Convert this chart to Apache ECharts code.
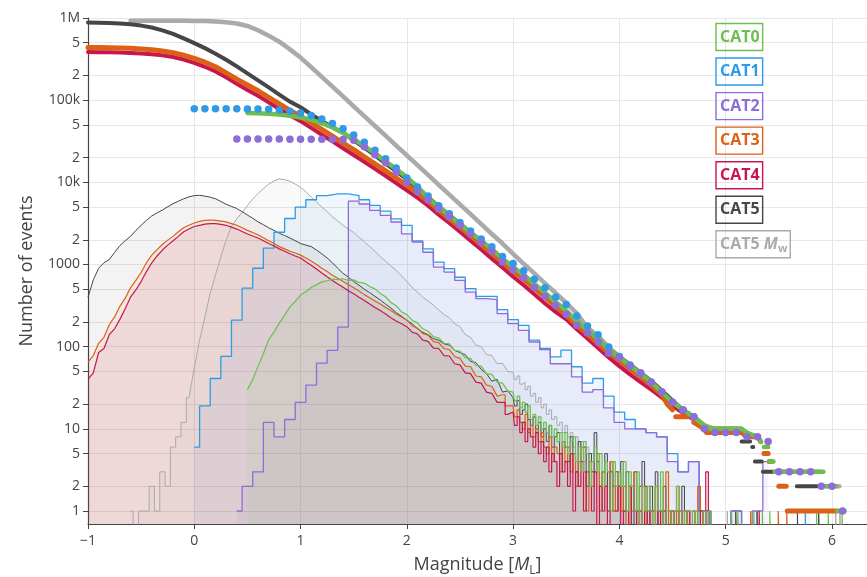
<!DOCTYPE html>
<html><head><meta charset="utf-8">
<script src="https://cdn.jsdelivr.net/npm/echarts@6/dist/echarts.min.js"></script>
<style>html,body{margin:0;padding:0;background:#fff}#c{width:867px;height:577px}</style>
</head><body><div id="c"></div>
<script>
// ---------------- tick labels ----------------
const xTickValues = [-1, 0, 1, 2, 3, 4, 5, 6];
const xTickLabels = ['\u22121', '0', '1', '2', '3', '4', '5', '6'];
const yTickValues = [1,2,5,10,20,50,100,200,500,1000,2000,5000,10000,20000,50000,100000,200000,500000,1000000];
const yTickLabels = ['1','2','5','10','2','5','100','2','5','1000','2','5','10k','2','5','100k','2','5','1M'];

// ---------------- categories ----------------
const catNames = ['CAT0', 'CAT1', 'CAT2', 'CAT3', 'CAT4', 'CAT5', 'CAT5 Mw'];
const catColors = ['#6cbf4f', '#2f9be8', '#8e6cd9', '#dc6016', '#c9164c', '#464646', '#aaaaaa'];

// ---------------- histograms: fine bins (counts per 0.01 bin) ----------------
// main part sampled every 0.05 (up to M 2.95), tail part sampled every 0.025 (from M 3.0)
const fineStep = 0.05;
const tailStep = 0.025;
const tailStart = 3.0;

const cat5HistStart = -1.0;
const cat5Hist = [400,650,900,1050,1150,1400,1700,1950,2200,2600,3000,3450,3900,4250,4600,5050,5500,5900,6300,6650,
 6900,6950,6800,6600,6300,5850,5400,5100,4800,4400,4000,3650,3300,3050,2800,2600,2400,2250,2100,1950,
 1800,1720,1650,1500,1350,1200,1050,900,780,700,620,560,500,455,410,370,330,295,260,235,
 210,190,165,150,140,125,120,108,105,90,85,80,66,64,53,47,38,40,28,29];
const cat5Tail = [24,19,22,15,17,20,13,11,14,9,12,8,10,7,11,6,8,9,5,7,
 6,4,8,5,3,7,4,6,2,5,3,9,4,2,3,5,1,4,2,3,
 2,4,1,3,2,0,3,1,2,4,1,0,2,1,3,0,1,2,0,1,
 0,1,1,0,2,1,0,0,1,0,1,0,0,1,1,0];

const cat3HistStart = -1.0;
const cat3Hist = [65,78,110,130,185,230,310,390,520,640,800,1050,1300,1520,1750,1980,2200,2500,2800,3000,
 3200,3350,3450,3480,3450,3380,3300,3150,3000,2800,2600,2450,2300,2120,1950,1800,1650,1550,1450,1380,
 1300,1200,1100,1000,900,820,740,680,620,570,520,475,430,395,360,330,300,275,250,230,
 210,180,168,145,138,115,112,95,92,76,72,58,57,44,43,34,33,25,26,19];
const cat3Tail = [19,14,17,12,10,15,9,11,8,10,7,9,6,5,8,4,6,5,3,7,
 4,6,3,5,2,4,6,3,1,4,2,3,5,1,3,2,1,4,2,1,
 3,1,2,0,2,1,3,0,1,2,0,1,1,0,2,1,0,1,3,0,
 1,0,2,0,1,0,1,0,0,1,2,0,1,0,0,0];

const cat4HistStart = -1.0;
const cat4Hist = [40,48,85,95,140,165,215,290,400,490,620,820,1050,1270,1500,1720,1950,2200,2500,2700,
 2900,3000,3100,3150,3150,3080,3000,2850,2700,2520,2350,2220,2100,1950,1800,1680,1550,1450,1350,1270,
 1200,1080,980,880,790,710,640,580,530,480,440,400,365,330,300,275,250,225,205,190,
 175,150,143,120,116,96,95,78,77,62,60,48,47,37,36,28,27,21,21,15];
const cat4Tail = [16,11,14,9,12,7,10,8,6,9,5,7,4,6,3,5,4,2,5,3,
 4,2,5,1,3,2,4,1,3,2,1,3,0,2,1,2,0,3,1,1,
 2,0,1,1,0,2,1,0,1,0,2,0,1,0,0,1,0,1,0,0,
 1,0,0,1,0,0,1,0,0,0,0,1,0,3,0,0];

const cat0HistStart = 0.5;
const cat0Hist = [30,40,58,82,122,150,195,240,305,355,425,465,525,565,615,635,665,655,670,640,
 650,605,595,540,505,445,405,345,315,265,245,210,195,165,155,132,128,110,108,90,
 88,73,72,59,58,47,46,37,36,29];
const cat0Tail = [28,22,25,18,21,16,19,13,15,11,14,10,12,9,11,8,10,7,9,6,
 9,5,7,8,4,6,3,7,5,2,4,6,3,5,2,4,3,1,4,2,
 3,2,4,1,3,2,1,3,0,2,1,2,1,0,2,1,3,0,1,1,
 0,1,2,0,1,0,1,1,0,1,0,0,1,0,1,0];

const cat5MwHistStart = -0.6;
const cat5MwHist = [1,0,1,1,2,1,3,2,6,8,12,24,55,120,230,450,750,1250,2000,2900,
 3600,4300,5200,6300,7300,8400,9500,10400,11000,10800,10300,9500,8700,7700,6600,5800,5000,4400,3800,3400,
 3000,2700,2450,2150,1900,1650,1450,1250,1100,960,850,730,620,530,460,400,360,320,280,245,
 225,190,175,140,130,105,100,80,78,62,63,50];
const cat5MwTail = [49,40,44,35,37,30,33,25,27,21,24,18,20,15,17,13,14,11,12,9,
 11,8,9,6,8,5,7,4,6,3,5,3,4,2,3,2,3,1,2,2,
 1,2,1,0,2,1,1,0,1,0,0,1,1,0,1,0,0,1,0];

// isolated single events far in the tail (magnitudes)
const cat0Singles = [5.06, 5.12, 5.27, 5.35, 5.42, 5.86, 5.97, 6.10];
const cat3Singles = [5.24, 5.50, 5.58];
const cat4Singles = [5.32];
const cat5Singles = [5.10, 5.30, 5.68, 5.88];
const cat5MwSingles = [5.02, 6.04, 6.08];

// ---------------- histograms: coarse 0.1 bins ----------------
const coarseStep = 0.1;
const cat1HistStart = 0.0;
const cat1Hist = [6,19,41,76,210,515,900,1580,2470,3630,
 4980,6140,6900,7230,7230,6900,6140,5230,4460,3600,
 2990,1940,1550,1070,890,700,510,410,410,282,
 214,182,120,95,75,91,57,36,41,25,
 16,13,10,9,8,5,3,4,1,0,
 0,1,0,0,0,0,0,0,1];
const cat2HistStart = 0.4;
const cat2Hist = [1,2,3,12,8,13,21,34,63,90,
 173,5900,5450,4550,3970,3290,2360,1880,1410,930,
 810,640,460,385,373,252,191,158,114,92,
 62,62,43,28,30,18,12,10,10,9,
 8,4,3,4,1,0,0,1,0,1,4];

// ---------------- cumulative counts N(>=M) ----------------
const cumStep = 0.1;
const cat5CumStart = -1.0;
const cat5Cum = [882000,878000,870000,858000,838000,808000,765000,708000,640000,565000,
 495000,430000,368000,310000,258000,212000,174000,143000,117000,96000,
 82000,67000,56000,47000,40000,32500,26500,21200,17000,13600,
 10900,8500,6600,5100,4000,3150,2450,1950,1520,1180,
 920,730,570,440,345,270,205,160,122,93,
 75,60,48,38,29,22];
const cat5TailMag = [4.55,4.6,4.7,4.8,4.85,5.14,5.14,5.15,5.23,5.23,5.25,5.26,5.26,5.265,5.27,5.27,5.275,5.34,5.34,5.35,5.44,5.44,5.67,5.86,5.86,5.88,5.95];
const cat5TailN   = [19,17,14,11,10,10,null,7,7,null,6,6,null,5,5,null,4,4,null,3,3,null,2,2,null,1,1];

const cat3CumStart = -1.0;
const cat3Cum = [438000,437000,435000,432000,427000,420000,410000,396000,378000,352000,
 322000,290000,255000,215000,180000,153000,130000,108000,90000,75000,
 64000,53000,44000,36500,30000,25000,20500,16800,13800,11300,
 9200,7400,5900,4600,3600,2850,2250,1750,1370,1070,
 830,660,515,400,310,242,182,142,110,84,
 68,54,43,34,26];
const cat3TailMag = [4.45,4.5,4.5,4.53,4.64,4.64,4.7,4.8,4.82,5.15,5.2,5.3,5.33,5.33,5.36,5.40,5.40,5.41,5.43,5.43,5.50,5.57,5.57,5.58,6.05];
const cat3TailN   = [20,17,null,14,14,null,12,10,9,9,8,8,7,null,5,5,null,4,4,null,2,2,null,1,1];

const cat4CumStart = -1.0;
const cat4Cum = [385000,384000,382000,380000,376000,370000,362000,351000,335000,312000,
 285000,255000,224000,190000,158000,133000,113000,94000,78000,65500,
 55500,46000,38000,31500,26000,21500,17800,14600,12000,9800,
 8000,6500,5200,4050,3200,2500,1950,1520,1180,920,
 710,560,435,335,265,215,163,126,96,74,
 58,46,37,30,24,19,15.5,13,10];

const cat0CumStart = 0.5;
const cat0Cum = [70000,69300,68300,66800,64400,61600,57500,52500,46500,40000,
 33500,27500,22500,18000,14500,11500,8900,6500,5000,3950,
 3100,2450,1950,1540,1180,930,750,580,455,350,
 275,205,160,125,92,74,59,47,37,28,
 21,17,14,11];
const cat0TailMag = [4.85,5.15,5.2,5.3,5.33,5.33,5.36,5.40,5.40,5.41,5.45,5.45,5.46,5.92,5.92,5.93,6.04,6.04,6.05,6.12];
const cat0TailN   = [10,10,9,8,7,null,6,6,null,4,4,null,3,3,null,2,2,null,1,1];

const cat5MwCumStart = -0.6;
const cat5MwCum = [925000,925000,925000,925000,924000,924000,922000,918000,908000,890000,
 858000,800000,710000,610000,515000,415000,330000,252000,192000,146000,
 111000,84000,64000,48500,37000,28000,21300,16200,12300,9300,
 7100,5400,4100,3100,2350,1800,1350,1020,780,590,
 450,340,255,170,135,98,76,60,48,38,
 29,22,17,14,11];
const cat5MwTailMag = [4.9,5.15,5.15,5.45,5.9,5.9,5.95,6.07];
const cat5MwTailN   = [10,10,null,3,3,null,2,2];

const cat1CumStart = 0.0;
const cat1Cum = [78500,78500,78500,78400,78400,78300,78100,77500,76000,73200,
 70000,65100,59000,52100,44900,37600,30700,24600,19400,14900,
 11300,8800,6800,5200,4150,3250,2550,2050,1640,1250,
 1030,840,660,520,400,325,237,178,140,99,
 76,60,47,37,28,21,17,14];
const cat2CumStart = 0.4;
const cat2Cum = [33600,33600,33600,33600,33600,33500,33500,33500,33400,33400,
 33300,32600,27200,21600,17300,13300,10000,7700,6100,4750,
 3800,3000,2350,1850,1450,1070,860,693,525,410,
 318,248,182,147,114,83,74,58,48,37,
 28,21,17,14,10,9,9,9,8,8,
 7,3,3,3,3,2,2,1];

// ---------------- building helpers ----------------
const FLOOR = 0.3;      // below the axis minimum: zero-count bins
const SMOOTH_MIN = 20;  // samples at or above this are joined directly, lower ones drawn as steps
function r4(v) { return Math.round(v * 10000) / 10000; }
function fv(v) { return v > 0 ? v : FLOOR; }
// sampled part of a fine histogram: direct joins where counts are high, steps where they are low
function hybridPts(start, step, vals) {
  const pts = [[r4(start), fv(vals[0])]];
  for (let i = 0; i < vals.length - 1; i++) {
    const a = vals[i], b = vals[i + 1];
    if (!(a >= SMOOTH_MIN && b >= SMOOTH_MIN)) {
      const mid = r4(start + (i + 0.5) * step);
      pts.push([mid, fv(a)], [mid, fv(b)]);
    }
    pts.push([r4(start + (i + 1) * step), fv(b)]);
  }
  return pts;
}
// step shape (horizontal-vertical-horizontal) like a binned histogram line
function hvh(start, step, vals) {
  const n = vals.length, pts = [[r4(start), fv(vals[0])]];
  for (let i = 0; i < n - 1; i++) {
    const mid = r4(start + (i + 0.5) * step);
    pts.push([mid, fv(vals[i])], [mid, fv(vals[i + 1])]);
  }
  pts.push([r4(start + (n - 1) * step), fv(vals[n - 1])]);
  return pts;
}
function finePts(start, vals, tail, singles) {
  const pts = hybridPts(start, fineStep, vals).concat(hvh(tailStart, tailStep, tail));
  const last = pts[pts.length - 1];
  pts.push([last[0], FLOOR]);
  singles.forEach(m => {
    pts.push([r4(m - 0.005), FLOOR], [r4(m - 0.005), 1], [r4(m + 0.005), 1], [r4(m + 0.005), FLOOR]);
  });
  return pts;
}
function cumPts(start, step, vals, tailMag, tailN) {
  const pts = vals.map((v, i) => [r4(start + i * step), v]);
  if (tailMag) tailMag.forEach((m, j) => pts.push([m, tailN[j] == null ? '-' : tailN[j]]));
  return pts;
}
function rgba(hex, a) {
  const n = parseInt(hex.slice(1), 16);
  return 'rgba(' + (n >> 16 & 255) + ',' + (n >> 8 & 255) + ',' + (n & 255) + ',' + a + ')';
}
function histSeries(pts, color, width, alpha) {
  return { type: 'line', data: pts, showSymbol: false, symbol: 'none', silent: true, clip: true, z: 2,
    lineStyle: { color: color, width: width, join: 'bevel' }, areaStyle: { color: rgba(color, alpha), origin: 'start' } };
}
function cumSeries(pts, color, width) {
  return { type: 'line', data: pts, showSymbol: false, symbol: 'none', silent: true, clip: true, connectNulls: false, z: 3,
    lineStyle: { color: color, width: width, cap: 'round', join: 'round' } };
}
function dotSeries(pts, color, z) {
  return { type: 'scatter', data: pts, symbol: 'circle', symbolSize: 7.5, silent: true, z: z,
    itemStyle: { color: color, opacity: 1 } };
}

const [C0, C1, C2, C3, C4, C5, C5W] = catColors;
const series = [
  histSeries(finePts(cat5MwHistStart, cat5MwHist, cat5MwTail, cat5MwSingles), C5W, 1, 0.10),
  histSeries(finePts(cat5HistStart, cat5Hist, cat5Tail, cat5Singles), C5, 1, 0.09),
  histSeries(hvh(cat1HistStart, coarseStep, cat1Hist), C1, 1.3, 0.11),
  histSeries(hvh(cat2HistStart, coarseStep, cat2Hist), C2, 1.3, 0.11),
  histSeries(finePts(cat3HistStart, cat3Hist, cat3Tail, cat3Singles), C3, 1.2, 0.10),
  histSeries(finePts(cat4HistStart, cat4Hist, cat4Tail, cat4Singles), C4, 1.2, 0.10),
  histSeries(finePts(cat0HistStart, cat0Hist, cat0Tail, cat0Singles), C0, 1.2, 0.10),
  cumSeries(cumPts(cat5MwCumStart, cumStep, cat5MwCum, cat5MwTailMag, cat5MwTailN), C5W, 4.5),
  cumSeries(cumPts(cat5CumStart, cumStep, cat5Cum, cat5TailMag, cat5TailN), C5, 4),
  cumSeries(cumPts(cat4CumStart, cumStep, cat4Cum), C4, 4),
  cumSeries(cumPts(cat3CumStart, cumStep, cat3Cum, cat3TailMag, cat3TailN), C3, 5),
  cumSeries(cumPts(cat0CumStart, cumStep, cat0Cum, cat0TailMag, cat0TailN), C0, 4.5),
  dotSeries(cumPts(cat1CumStart, cumStep, cat1Cum), C1, 5),
  dotSeries(cumPts(cat2CumStart, cumStep, cat2Cum), C2, 6)
];

// legend boxes (text elements)
const FONT = '"Open Sans", "Noto Sans", sans-serif';
const graphic = catNames.map((name, i) => {
  const color = catColors[i];
  const isMw = name === 'CAT5 Mw';
  const style = {
    text: isMw ? '{b|CAT5 }{i|M}{s|w}' : name,
    fill: color, font: 'bold 16px ' + FONT, align: 'left', verticalAlign: 'top',
    lineHeight: 21, padding: [3, 3, 3, 4], borderColor: color, borderWidth: 1.4
  };
  if (isMw) {
    style.rich = {
      b: { fill: color, font: 'bold 16px ' + FONT, lineHeight: 21 },
      i: { fill: color, font: 'italic bold 16px ' + FONT, lineHeight: 21 },
      s: { fill: color, font: 'bold 11px ' + FONT, lineHeight: 13, verticalAlign: 'bottom' }
    };
  }
  return { type: 'text', x: 716, y: 23.5 + i * 34.55, silent: true, z: 100, style: style };
});

function yFmt(v) {
  let best = 0, bd = Infinity;
  yTickValues.forEach((t, i) => { const d = Math.abs(Math.log10(v) - Math.log10(t)); if (d < bd) { bd = d; best = i; } });
  return yTickLabels[best];
}
function xFmt(v) {
  const i = xTickValues.findIndex(t => Math.abs(t - v) < 1e-6);
  return i >= 0 ? xTickLabels[i] : '';
}

const chart = echarts.init(document.getElementById('c'), null, { renderer: 'canvas' });
chart.setOption({
  animation: false,
  backgroundColor: '#ffffff',
  textStyle: { fontFamily: FONT },
  grid: { left: 88, right: 0, top: 18, bottom: 53, containLabel: false, outerBoundsMode: 'none' },
  xAxis: {
    type: 'value', min: -1, max: 6.33,
    name: '{n|Magnitude [}{i|M}{s|L}{n|]}', nameLocation: 'middle', nameGap: 29,
    nameTextStyle: { color: '#444', fontSize: 18, fontFamily: FONT,
      rich: { n: { color: '#444', fontSize: 18, fontFamily: FONT, lineHeight: 24 },
              i: { color: '#444', fontSize: 18, fontFamily: FONT, fontStyle: 'italic', lineHeight: 24 },
              s: { color: '#444', fontSize: 12, fontFamily: FONT, lineHeight: 14, verticalAlign: 'bottom' } } },
    axisLine: { show: true, onZero: false, lineStyle: { color: '#444', width: 1.2 } },
    axisTick: { show: true, customValues: xTickValues, length: 5, inside: false, lineStyle: { color: '#444' } },
    axisLabel: { customValues: xTickValues, formatter: xFmt, color: '#444', fontSize: 14, fontFamily: FONT, margin: 10 },
    splitLine: { show: true, lineStyle: { color: '#e6e6e6', width: 1 } }
  },
  yAxis: {
    type: 'log', logBase: 10, min: 0.695, max: 1000000,
    name: 'Number of events', nameLocation: 'middle', nameRotate: 90, nameGap: 52,
    nameTextStyle: { color: '#444', fontSize: 18, fontFamily: FONT },
    axisLine: { show: true, onZero: false, lineStyle: { color: '#444', width: 1.2 } },
    axisTick: { show: true, customValues: yTickValues, length: 5, inside: false, lineStyle: { color: '#444' } },
    axisLabel: { customValues: yTickValues, formatter: yFmt, color: '#444', fontSize: 14, fontFamily: FONT, margin: 8 },
    splitLine: { show: true, lineStyle: { color: '#e6e6e6', width: 1 } }
  },
  graphic: graphic,
  series: series
});
</script></body></html>
